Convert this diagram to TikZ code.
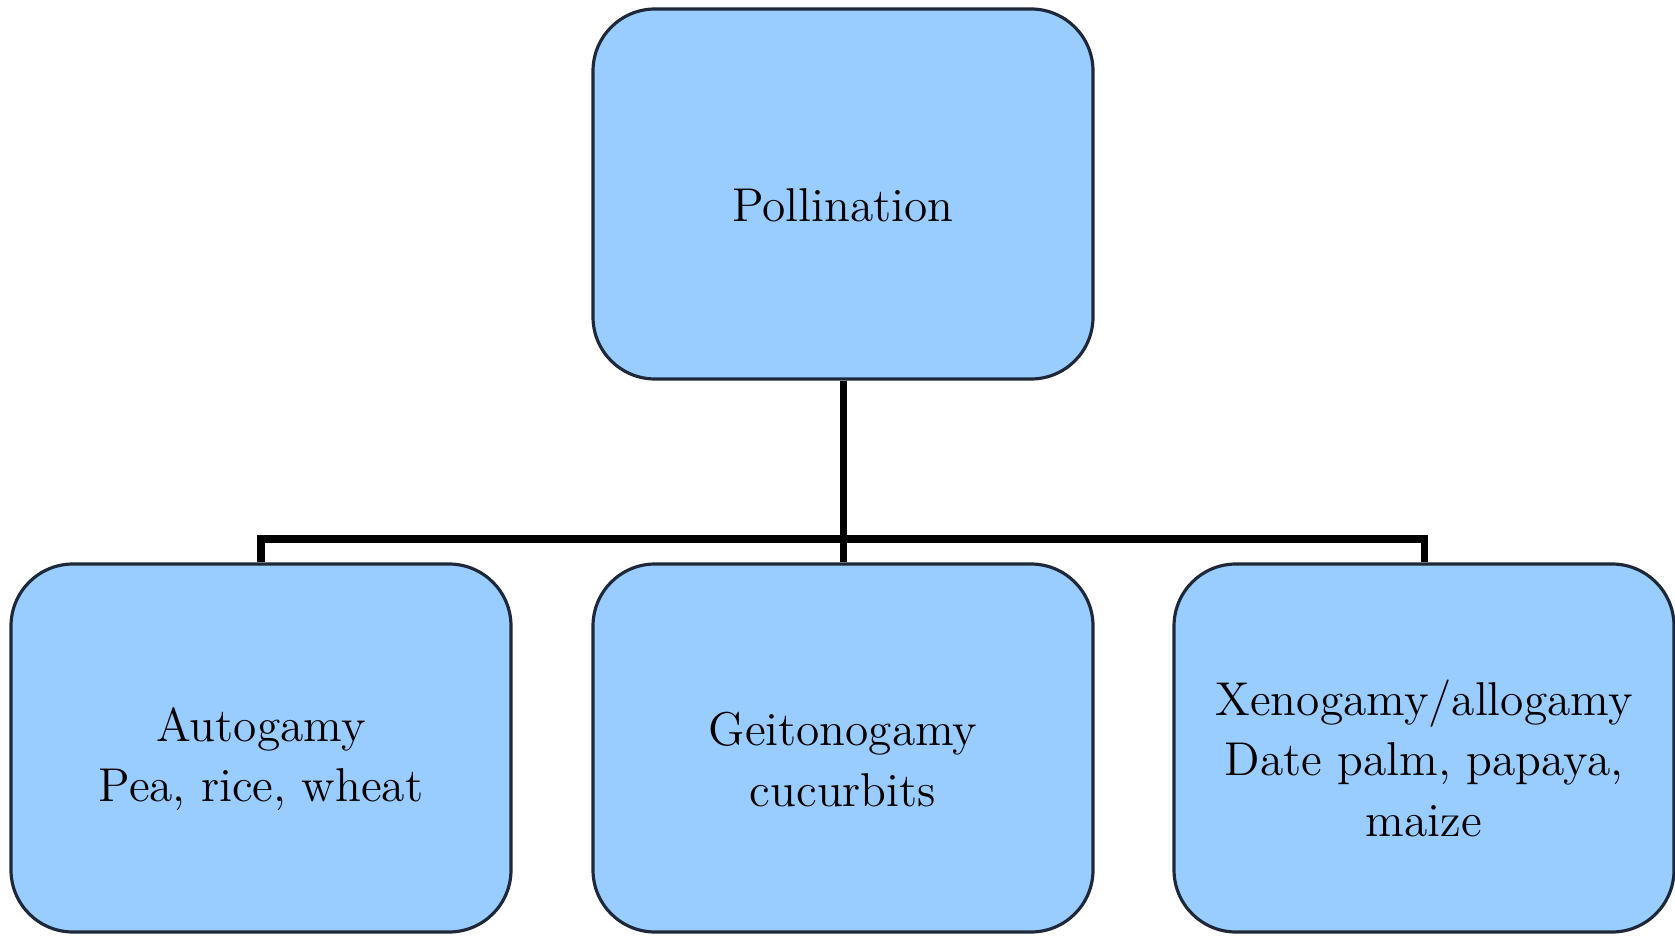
\documentclass[tikz,border=0pt]{standalone}
\usepackage{tikz}
\usepackage{xcolor}
\usetikzlibrary{positioning}
\definecolor{boxblue}{HTML}{99CCFF}
\definecolor{boxline}{HTML}{1E2838}
\newcommand{\topstrut}{\rule{0pt}{16pt}}

\begin{document}
\begin{tikzpicture}[
  typebox/.style={draw=boxline,line width=0.9pt,fill=boxblue,rounded corners=0.62cm,
    minimum width=5cm,minimum height=3.68cm,align=center,inner sep=0pt,
    font=\fontsize{13.5}{17.3}\selectfont},
  link/.style={line width=2pt,black}
  ]
  \useasboundingbox (0,0) rectangle (16.75,9.35);
  % root
  \node[typebox,minimum height=3.7cm] at(8.43,7.41)(pollination){\topstrut Pollination};
  % kinds of pollination
  \node[typebox] at(2.61,1.87)(autogamy){\topstrut Autogamy\\Pea, rice, wheat};
  \node[typebox] at(8.43,1.87)(geitonogamy){\topstrut Geitonogamy\\cucurbits};
  \node[typebox] at(14.24,1.87)(xenogamy){\topstrut Xenogamy/allogamy\\Date palm, papaya,\\maize};
  % connectors
  \coordinate (bar) at(8.43,3.96);
  \draw [link](pollination.south) -- (geitonogamy.north);
  \draw [link](autogamy.north) |- (bar) -| (xenogamy.north);
\end{tikzpicture}
\end{document}
